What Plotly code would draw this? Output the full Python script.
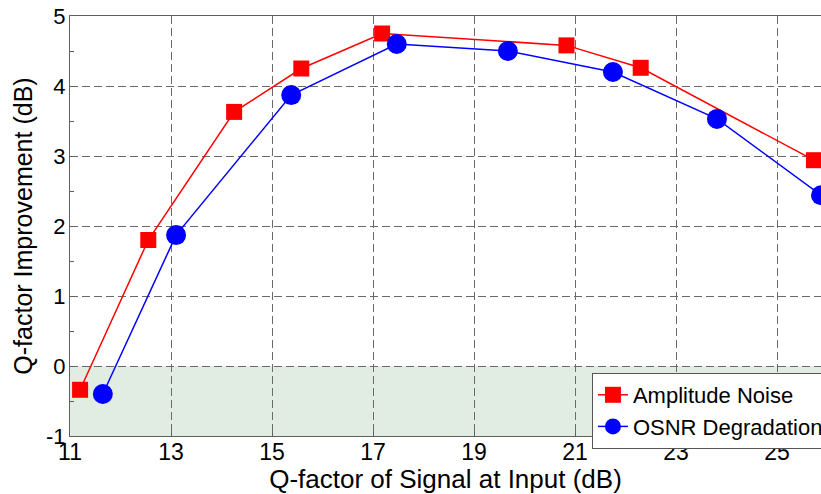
import plotly.graph_objects as go

amp_x = [11.2, 12.55, 14.25, 15.58, 17.18, 20.83, 22.3, 25.73]
amp_y = [-0.34, 1.8, 3.63, 4.25, 4.75, 4.58, 4.26, 2.94]
osnr_x = [11.65, 13.1, 15.38, 17.47, 19.67, 21.75, 23.81, 25.87]
osnr_y = [-0.4, 1.87, 3.87, 4.6, 4.5, 4.2, 3.53, 2.44]
x_ticks = [11, 13, 15, 17, 19, 21, 23, 25]
y_ticks = [-1, 0, 1, 2, 3, 4, 5]

FONT = "Liberation Sans, Arial, sans-serif"

fig = go.Figure()
fig.add_trace(go.Scatter(
    x=amp_x, y=amp_y, mode="lines+markers", name="Amplitude Noise",
    line=dict(color="#ff0000", width=1.5),
    marker=dict(symbol="square", size=16, color="#ff0000"),
))
fig.add_trace(go.Scatter(
    x=osnr_x, y=osnr_y, mode="lines+markers", name="OSNR Degradation",
    line=dict(color="#0000ff", width=1.5),
    marker=dict(symbol="circle", size=20, color="#0000ff"),
))

fig.add_shape(type="rect", xref="paper", yref="y", x0=0, x1=1, y0=-1, y1=0,
              fillcolor="#e1ece3", line=dict(width=0), layer="below")

axis_common = dict(
    showline=True, linecolor="#606060", linewidth=1.2, mirror=True,
    showgrid=True, gridcolor="#6a6a6a", griddash="8px,4px", gridwidth=1,
    ticks="inside", ticklen=5, tickcolor="#606060",
    zeroline=False, automargin=False, ticklabeloverflow="allow",
)

fig.update_xaxes(
    range=[11, 25.87], tickvals=x_ticks, ticktext=[str(v) for v in x_ticks],
    tickfont=dict(size=23, color="black", family=FONT),
    ticklabelstandoff=-5,
    title=dict(text="Q-factor of Signal at Input (dB)", font=dict(size=26, color="black", family=FONT), standoff=2),
    **axis_common,
)
fig.update_yaxes(
    range=[-1, 5], tickvals=y_ticks, ticktext=[str(v) for v in y_ticks],
    tickfont=dict(size=22, color="black", family=FONT),
    ticklabelstandoff=-1,
    title=dict(text="Q-factor Improvement (dB)", font=dict(size=25, color="black", family=FONT), standoff=6),
    minor=dict(dtick=0.5, ticks="inside", ticklen=4, tickcolor="#606060", showgrid=False),
    **axis_common,
)

fig.update_layout(
    width=821, height=494,
    margin=dict(l=70, r=0, t=16, b=58, autoexpand=False),
    paper_bgcolor="white", plot_bgcolor="white",
    font=dict(family=FONT, color="black"),
    showlegend=True,
    legend=dict(
        x=0.695, y=0.15, xanchor="left", yanchor="top",
        bgcolor="white", bordercolor="#555555", borderwidth=1,
        font=dict(size=22, color="black", family=FONT),
        itemwidth=30, tracegroupgap=0,
    ),
)

# Remove the default page margin so the figure sits at the window's top-left corner.
fig.write_html(
    "out.html",
    config={"displayModeBar": False},
    post_script="document.body.style.margin='0';document.documentElement.style.overflow='hidden';document.body.style.overflow='hidden';",
)
